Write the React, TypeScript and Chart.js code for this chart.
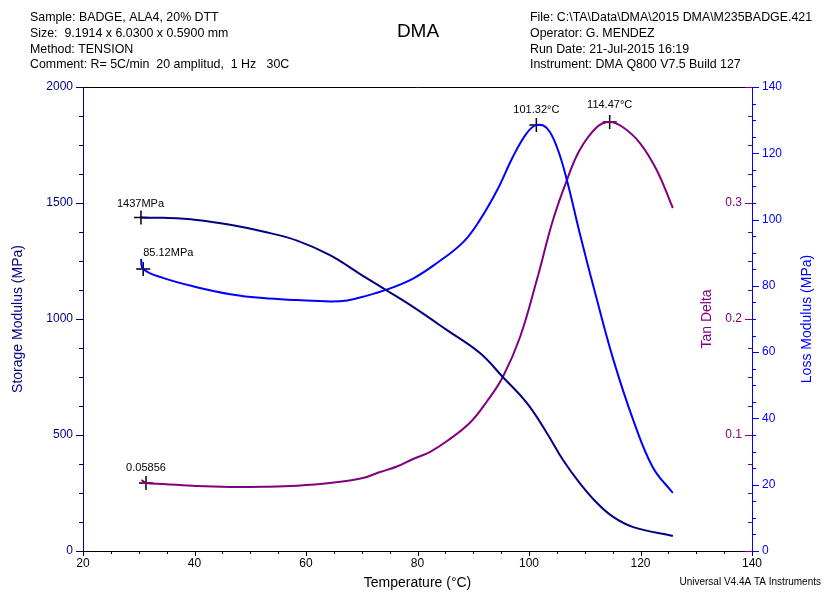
import React, { useEffect, useRef } from "react";
import { Chart, registerables } from "chart.js";

Chart.register(...registerables);

// ---- Data ----
const storageTemp = [30.4, 34.35, 40.4, 46.4, 52.3, 58.4, 64.3, 70.2, 75.1, 79.2, 85.3, 91.2, 95.3, 99.6, 103.2, 106.1, 109.1, 112.2, 115.1, 118.7, 125.8];
const storageMPa = [1437, 1436, 1427, 1406, 1377, 1338, 1275, 1186, 1114, 1052, 952, 853, 750, 638, 509, 392, 293, 207, 147, 103, 65];

const lossTemp = [30.4, 30.8, 34.35, 40.4, 46.4, 52.3, 58.4, 64.3, 67.4, 70.2, 74.7, 79.2, 83.5, 88.2, 91.2, 94.3, 97.1, 99.6, 101.32, 103.2, 105.0, 106.8, 109.1, 112.2, 115.1, 118.7, 122.2, 125.8];
const lossMPa = [88.1, 85.12, 82.4, 79.6, 77.5, 76.3, 75.7, 75.3, 75.6, 76.7, 79.0, 82.2, 86.9, 93.2, 99.9, 108.9, 118.9, 126.1, 128.5, 127.6, 121.9, 111.9, 95.9, 75.7, 57.9, 39.5, 25.3, 17.5];

const tanTemp = [30.5, 31.3, 34.35, 40.4, 46.4, 52.3, 58.4, 64.3, 70.2, 73.3, 76.3, 79.2, 82.2, 85.3, 89.4, 92.5, 95.3, 98.4, 101.4, 104.3, 106.8, 109.1, 112.2, 114.47, 116.8, 119.9, 122.9, 125.8];
const tanDelta = [0.0612, 0.05856, 0.0578, 0.056, 0.0552, 0.0554, 0.0563, 0.0586, 0.0629, 0.0681, 0.0728, 0.0793, 0.0853, 0.0948, 0.1105, 0.1293, 0.15, 0.1845, 0.2336, 0.2853, 0.3198, 0.3457, 0.3655, 0.3698, 0.3655, 0.3517, 0.3284, 0.2957];

// Marked points
const storageMark = { t: 30.4, v: 1437, label: "1437MPa" };
const lossStartMark = { t: 30.8, v: 85.12, label: "85.12MPa" };
const lossPeakMark = { t: 101.32, v: 128.5, label: "101.32°C" };
const tanStartMark = { t: 31.3, v: 0.05856, label: "0.05856" };
const tanPeakMark = { t: 114.47, v: 0.3698, label: "114.47°C" };

const headerLeft = [
  "Sample: BADGE, ALA4, 20% DTT",
  "Size:  9.1914 x 6.0300 x 0.5900 mm",
  "Method: TENSION",
  "Comment: R= 5C/min  20 amplitud,  1 Hz   30C",
];
const headerRight = [
  "File: C:\\TA\\Data\\DMA\\2015 DMA\\M235BADGE.421",
  "Operator: G. MENDEZ",
  "Run Date: 21-Jul-2015 16:19",
  "Instrument: DMA Q800 V7.5 Build 127",
];
const tanTickLabels = [0.1, 0.2, 0.3];

const NAVY = "#000080";
const BLUE = "#0000ff";
const PURPLE = "#800080";
const FONT = '"Liberation Sans", Arial, sans-serif';

const zip = (xs: number[], ys: number[]) => xs.map((x, i) => ({ x, y: ys[i] }));

const decorPlugin = {
  id: "decor",
  afterDraw(chart: any) {
    const ctx = chart.ctx as CanvasRenderingContext2D;
    const { left, right, top, bottom } = chart.chartArea;
    const xs = chart.scales.x;
    const yS = chart.scales.y;
    const yL = chart.scales.yLoss;
    const yT = chart.scales.yTan;
    ctx.save();
    ctx.strokeStyle = "#000";
    ctx.lineWidth = 1;
    ctx.beginPath();
    ctx.moveTo(left, top + 0.5);
    ctx.lineTo(right, top + 0.5);
    ctx.stroke();

    const line = (x1: number, y1: number, x2: number, y2: number, c: string) => {
      ctx.strokeStyle = c;
      ctx.beginPath();
      ctx.moveTo(x1, y1);
      ctx.lineTo(x2, y2);
      ctx.stroke();
    };
    for (let v = 20; v <= 140; v += 5) {
      const x = Math.round(xs.getPixelForValue(v)) + 0.5;
      line(x, bottom, x, bottom + (v % 20 === 0 ? 5 : 3), "#000");
    }
    for (let v = 0; v <= 2000; v += 125) {
      const y = Math.round(yS.getPixelForValue(v)) + 0.5;
      line(left, y, left - (v % 500 === 0 ? 7 : 4), y, NAVY);
    }
    for (let v = 0; v <= 140; v += 5) {
      const y = Math.round(yL.getPixelForValue(v)) + 0.5;
      line(right, y, right + (v % 20 === 0 ? 7 : 4), y, BLUE);
    }
    for (let i = 0; i <= 16; i++) {
      const v = i * 0.025;
      const y = Math.round(yT.getPixelForValue(v)) + 0.5;
      line(right, y, right - (i % 4 === 0 ? 7 : 4), y, PURPLE);
    }
    ctx.fillStyle = PURPLE;
    ctx.font = `12px ${FONT}`;
    ctx.textAlign = "right";
    ctx.textBaseline = "middle";
    tanTickLabels.forEach((v) => {
      ctx.fillText(String(v), right - 10, yT.getPixelForValue(v));
    });

    ctx.fillStyle = "#000";
    ctx.textAlign = "left";
    ctx.font = `12.4px ${FONT}`;
    const lineYs = [18, 34, 50, 65];
    headerLeft.forEach((t, i) => ctx.fillText(t, 30, lineYs[i]));
    headerRight.forEach((t, i) => ctx.fillText(t, 530, lineYs[i]));
    ctx.textAlign = "center";
    ctx.font = `19px ${FONT}`;
    ctx.fillText("DMA", 418, 32);

    ctx.font = `14px ${FONT}`;
    ctx.fillText("Temperature (°C)", (left + right) / 2, 583);
    const vtitle = (txt: string, x: number, c: string) => {
      ctx.save();
      ctx.translate(x, (top + bottom) / 2);
      ctx.rotate(-Math.PI / 2);
      ctx.fillStyle = c;
      ctx.textAlign = "center";
      ctx.textBaseline = "middle";
      ctx.fillText(txt, 0, 0);
      ctx.restore();
    };
    vtitle("Storage Modulus (MPa)", 18, NAVY);
    vtitle("Tan Delta", 707, PURPLE);
    vtitle("Loss Modulus (MPa)", 807, BLUE);

    ctx.font = `10px ${FONT}`;
    ctx.textAlign = "right";
    ctx.fillStyle = "#000";
    ctx.fillText("Universal V4.4A TA Instruments", 821, 582);

    ctx.font = `11px ${FONT}`;
    ctx.fillStyle = "#000";
    const lab = (m: any, scale: any, dx: number, dy: number, align: CanvasTextAlign) => {
      ctx.textAlign = align;
      ctx.fillText(m.label, xs.getPixelForValue(m.t) + dx, scale.getPixelForValue(m.v) + dy);
    };
    lab(storageMark, yS, -24, -14, "left");
    lab(lossStartMark, yL, 0, -16, "left");
    lab(lossPeakMark, yL, 0, -15, "center");
    lab(tanPeakMark, yT, 0, -17, "center");
    lab(tanStartMark, yT, 0, -15, "center");
    ctx.restore();
  },
};

export default function App() {
  const ref = useRef<HTMLCanvasElement | null>(null);
  useEffect(() => {
    if (!ref.current) return;
    const lineDs = (label: string, data: any[], color: string, axis: string) => ({
      type: "line" as const,
      label,
      data,
      borderColor: color,
      backgroundColor: color,
      borderWidth: 2,
      pointRadius: 0,
      tension: 0.4,
      yAxisID: axis,
      fill: false,
    });
    const markDs = (m: any, axis: string) => ({
      type: "line" as const,
      data: [{ x: m.t, y: m.v }],
      showLine: false,
      pointStyle: "cross",
      pointRadius: 7,
      pointBorderWidth: 1.5,
      borderColor: "#000",
      backgroundColor: "#000",
      yAxisID: axis,
    });
    const chart = new Chart(ref.current, {
      type: "line",
      data: {
        datasets: [
          lineDs("Storage Modulus", zip(storageTemp, storageMPa), NAVY, "y"),
          lineDs("Loss Modulus", zip(lossTemp, lossMPa), BLUE, "yLoss"),
          lineDs("Tan Delta", zip(tanTemp, tanDelta), PURPLE, "yTan"),
          markDs(storageMark, "y"),
          markDs(lossStartMark, "yLoss"),
          markDs(lossPeakMark, "yLoss"),
          markDs(tanStartMark, "yTan"),
          markDs(tanPeakMark, "yTan"),
        ] as any,
      },
      options: {
        responsive: false,
        animation: false,
        devicePixelRatio: 1,
        layout: { padding: { top: 87, left: 0, right: 0, bottom: 0 } },
        plugins: { legend: { display: false }, tooltip: { enabled: false }, title: { display: false } },
        scales: {
          x: {
            type: "linear",
            position: "bottom",
            min: 20,
            max: 140,
            grid: { display: false, drawTicks: false },
            border: { display: true, color: "#000", width: 1 },
            ticks: { stepSize: 20, color: "#000", font: { size: 12, family: FONT }, padding: 5, maxRotation: 0, callback: (v: any) => String(v) },
            afterFit: (s: any) => { s.height = 45; },
          },
          y: {
            type: "linear",
            position: "left",
            min: 0,
            max: 2000,
            grid: { display: false, drawTicks: false },
            border: { display: true, color: NAVY, width: 1 },
            ticks: { stepSize: 500, color: NAVY, font: { size: 12, family: FONT }, padding: 10, callback: (v: any) => String(v) },
            afterFit: (s: any) => { s.width = 83; },
          },
          yLoss: {
            type: "linear",
            position: "right",
            min: 0,
            max: 140,
            grid: { display: false, drawTicks: false },
            border: { display: true, color: BLUE, width: 1 },
            ticks: { stepSize: 20, color: BLUE, font: { size: 12, family: FONT }, padding: 10, callback: (v: any) => String(v) },
            afterFit: (s: any) => { s.width = 72; },
          },
          yTan: {
            type: "linear",
            position: "right",
            min: 0,
            max: 0.4,
            display: false,
          },
        },
      } as any,
      plugins: [decorPlugin],
    });
    return () => chart.destroy();
  }, []);
  return (
    <div style={{ position: "absolute", left: 0, top: 0, width: 824, height: 596, background: "#fff" }}>
      <canvas ref={ref} width={824} height={596} style={{ display: "block" }} />
    </div>
  );
}
